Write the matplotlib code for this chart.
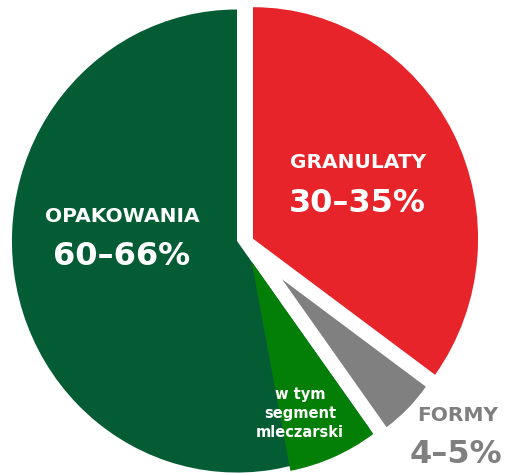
import matplotlib.pyplot as plt

# main split of the market (shares in %)
categories = ['GRANULATY', 'FORMY', 'OPAKOWANIA']
shares = [35, 5, 60]
ranges = ['30–35%', '4–5%', '60–66%']
colors = ['#e62429', '#808080', '#045c34']

# dairy segment is a part of OPAKOWANIA
dairy_label = 'w tym\nsegment\nmleczarski'
dairy_share = 7
dairy_color = '#037f07'

plt.rcParams['font.family'] = ['DejaVu Sans']

fig = plt.figure(figsize=(5.08, 4.73), dpi=100)
ax = fig.add_axes([0, 0, 1, 1])

wedges, _ = ax.pie(shares, colors=colors, startangle=90, counterclock=False,
                   wedgeprops=dict(linewidth=0))
# pull granulaty out to the right, formy further out and smaller
wedges[0].set_center((0.071, 0.01))
wedges[1].set_center((0.2, -0.165))
wedges[1].set_radius(0.79)

# dairy sub-slice sits on the right edge of the packaging slice
edge_angle = 90 - 360 * (shares[0] + shares[1]) / 100
ax.pie([dairy_share, 100 - dairy_share], colors=[dairy_color, 'none'],
       startangle=edge_angle, counterclock=False, radius=0.92,
       center=(0.065, -0.089), wedgeprops=dict(linewidth=0))

# squash slightly, the original is a bit taller than wide
ax.set_aspect('auto')
ax.set_xlim(-1.053, 1.204)
ax.set_ylim(-1.002, 1.041)
ax.axis('off')

# labels
lab = dict(fontsize=14.5, fontweight='bold', ha='center', va='center')
num = dict(fontsize=23, fontweight='bold', ha='center', va='center')

ax.text(-0.511, 0.104, categories[2], color='white', **lab)
ax.text(-0.511, -0.069, ranges[2], color='white', **num)

ax.text(0.538, 0.341, categories[0], color='white', **lab)
ax.text(0.533, 0.164, ranges[0], color='white', **num)

ax.text(0.978, -0.752, categories[1], color='#7f7f7f', **lab)
ax.text(0.973, -0.924, ranges[1], color='#7f7f7f', **num)

ax.text(0.28, -0.745, dairy_label, color='white', fontsize=10.5,
        fontweight='bold', ha='center', va='center', linespacing=1.35)

fig.savefig('out.png', dpi=100)
